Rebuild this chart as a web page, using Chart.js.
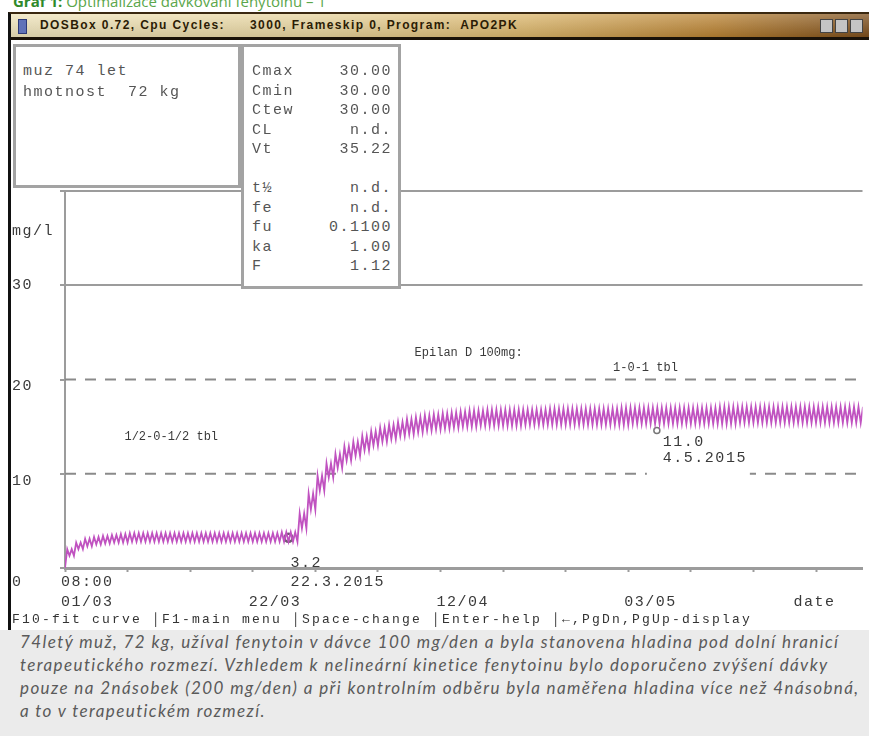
<!DOCTYPE html>
<html lang="cs">
<head>
<meta charset="utf-8">
<title>Optimalizace dávkování fenytoinu</title>
<script src="https://cdn.jsdelivr.net/npm/chart.js@4.4.1/dist/chart.umd.min.js"></script>
<style>
  html, body { margin: 0; padding: 0; }
  body { width: 869px; height: 736px; position: relative; overflow: hidden; background: #fff; }
  #nadpis { position: absolute; left: 13px; top: -9px; font: 15px 'Open Sans', sans-serif; color: #5aa64a; white-space: nowrap; }
  #nadpis b { color: #2f8a2a; }
  #ram { position: absolute; left: 8px; top: 12px; width: 870px; height: 616px; border-left: 3px solid #111; border-top: 2px solid #3a2810; background: #fff; }
  #lista { position: absolute; left: 11px; top: 14px; width: 858px; height: 23px; border-bottom: 3px solid #1a1208; z-index: 3;
    background: linear-gradient(to bottom, rgba(255,255,255,0.25), rgba(0,0,0,0.1)),
                linear-gradient(to right, #efe4bc 0%, #e7d49e 35%, #dab56a 60%, #b98232 82%, #7c4e1c 100%); }
  #lista .ikona { position: absolute; left: 7px; top: 5px; width: 7px; height: 13px; background: #6072b8; border: 1px solid #2d3a78; }
  #lista .text { position: absolute; top: 4px; font: bold 12px 'Liberation Sans', sans-serif; letter-spacing: 1.4px; color: #2b1c05; white-space: pre; }
  #lista .tlac { position: absolute; top: 5px; width: 11px; height: 12px; background: #c4c4c4; border: 1px solid #444; }
  #graf { position: absolute; left: 0; top: 0; z-index: 1; }
  .box { position: absolute; z-index: 2; background: #fff; border: 3px solid #a3a3a3; box-sizing: border-box; }
  .radek { position: absolute; z-index: 2; font: 15px 'Liberation Mono', monospace; letter-spacing: 1.5px; color: #555; white-space: pre; line-height: 18px; }
  #stav { position: absolute; z-index: 2; left: 12px; top: 612px; font: 13px 'Liberation Mono', monospace; letter-spacing: 2.2px; color: #333; white-space: pre; }
  #popis { position: absolute; left: 0; top: 630px; width: 869px; height: 106px; background: #ebebeb; overflow: hidden; }
  #popis p { margin: 0; position: absolute; left: 20px; font: italic 17px 'Lato', sans-serif; letter-spacing: 1.4px; color: #5a5a5a; white-space: nowrap; line-height: 23px; }
</style>
</head>
<body>
<div id="nadpis"><b>Graf 1:</b> Optimalizace dávkování fenytoinu – 1</div>
<div id="ram"></div>
<div id="lista">
  <div class="ikona"></div>
  <div class="text" style="left:29px">DOSBox 0.72, Cpu Cycles:</div>
  <div class="text" style="left:239px">3000, Frameskip 0, Program:  APO2PK</div>
  <div class="tlac" style="left:809px"></div>
  <div class="tlac" style="left:824px"></div>
  <div class="tlac" style="left:839px"></div>
</div>
<canvas id="graf" width="869" height="620"></canvas>
<div class="box" style="left:13px; top:44px; width:228px; height:144px"></div>
<div class="box" style="left:241px; top:44px; width:160px; height:245px"></div>
<div id="boxy"></div>
<div id="stav">F10-fit curve │F1-main menu │Space-change │Enter-help │←,PgDn,PgUp-display</div>
<div id="popis">
  <p style="top:0px">74letý muž, 72 kg, užíval fenytoin v dávce 100 mg/den a byla stanovena hladina pod dolní hranicí</p>
  <p style="top:23px">terapeutického rozmezí. Vzhledem k nelineární kinetice fenytoinu bylo doporučeno zvýšení dávky</p>
  <p style="top:46px">pouze na 2násobek (200 mg/den) a při kontrolním odběru byla naměřena hladina více než 4násobná,</p>
  <p style="top:69px">a to v terapeutickém rozmezí.</p>
</div>
<script>
// pacient a parametry (levy a pravy ramecek)
const pacient = ['muz 74 let', 'hmotnost  72 kg'];
const parametry = ['Cmax', 'Cmin', 'Ctew', 'CL', 'Vt', '', 't½', 'fe', 'fu', 'ka', 'F'];
const hodnotyParametru = ['30.00', '30.00', '30.00', 'n.d.', '35.22', '', 'n.d.', 'n.d.', '0.1100', '1.00', '1.12'];

// simulovana hladina fenytoinu (mg/l): denni minima a maxima, den 0 = 01/03 08:00
const dny = [];
for (let d = 0; d < 90; d++) dny.push(d);
const minima = [
  1.3, 2.0, 2.3, 2.5, 2.6, 2.7, 2.7, 2.8, 2.8, 2.8,
  2.8, 2.8, 2.8, 2.8, 2.8, 2.8, 2.8, 2.8, 2.8, 2.8,
  2.8, 2.8, 2.8, 2.8, 2.8, 2.8, 4.2, 6.2, 8.2, 9.6,
  10.6, 11.4, 11.9, 12.5, 13.0, 13.4, 13.7, 14.0, 14.2, 14.4,
  14.6, 14.7, 14.8, 14.9, 15.0, 15.0, 15.1, 15.1, 15.1, 15.1,
  15.1, 15.2, 15.2, 15.2, 15.2, 15.2, 15.2, 15.2, 15.2, 15.2,
  15.2, 15.2, 15.2, 15.3, 15.3, 15.3, 15.3, 15.3, 15.3, 15.3,
  15.3, 15.3, 15.3, 15.3, 15.3, 15.4, 15.4, 15.4, 15.4, 15.4,
  15.4, 15.4, 15.4, 15.4, 15.4, 15.4, 15.4, 15.4, 15.4, 15.4
];
const maxima = [
  2.0, 2.7, 3.1, 3.3, 3.4, 3.5, 3.6, 3.7, 3.7, 3.7,
  3.7, 3.7, 3.7, 3.7, 3.7, 3.7, 3.7, 3.7, 3.7, 3.7,
  3.7, 3.7, 3.7, 3.7, 3.8, 3.8, 5.8, 7.9, 9.8, 11.1,
  12.1, 12.9, 13.4, 14.0, 14.5, 14.9, 15.2, 15.5, 15.8, 16.0,
  16.2, 16.3, 16.4, 16.5, 16.6, 16.7, 16.7, 16.8, 16.8, 16.8,
  16.8, 16.8, 16.8, 16.8, 16.9, 16.9, 16.9, 16.9, 16.9, 16.9,
  16.9, 16.9, 17.0, 17.0, 17.0, 17.0, 17.0, 17.0, 17.0, 17.0,
  17.0, 17.0, 17.0, 17.1, 17.1, 17.1, 17.1, 17.1, 17.1, 17.1,
  17.1, 17.1, 17.1, 17.1, 17.1, 17.1, 17.1, 17.1, 17.1, 17.1
];
const hladinaNaPocatku = 0;

// namerene hladiny (krouzky)
const mereniDny = [25, 66.2];
const mereniHodnoty = [3.2, 14.6];
const mereniPopisky = [['3.2', '22.3.2015'], ['11.0', '4.5.2015']];

// terapeuticke rozmezi
const terapeutickeRozmezi = [10, 20];

// osy
const yTicky = [0, 10, 20, 30, 40];
const yPopisky = [['', '', '0'], ['', '10'], ['', '20'], ['30'], ['']];
const xTicky = [0, 7, 14, 21, 28, 35, 42, 49, 56, 63, 70, 77, 84];
const xPopiskyDny = [0, 21, 42, 63];
const xPopisky = [['08:00', '01/03'], ['', '22/03'], ['', '12/04'], ['', '03/05']];

// ramecky s textem
const boxy = document.getElementById('boxy');
function radek(text, left, top, right) {
  const el = document.createElement('div');
  el.className = 'radek';
  el.textContent = text;
  el.style.top = (top - 9) + 'px';
  if (right) el.style.right = (869 - left) + 'px'; else el.style.left = left + 'px';
  boxy.appendChild(el);
}
pacient.forEach((t, i) => radek(t, 23, 72 + i * 21));
parametry.forEach((t, i) => {
  radek(t, 252, 72 + i * 19.5);
  radek(hodnotyParametru[i], 392, 72 + i * 19.5, true);
});

// krivka: po dvou davkach denne
const krivka = [{ x: 0, y: hladinaNaPocatku }];
dny.forEach((d, i) => {
  krivka.push({ x: d + 0.25, y: maxima[i] }, { x: d + 0.5, y: minima[i] },
              { x: d + 0.75, y: maxima[i] }, { x: d + 1, y: minima[i] });
});

const xMax = 89.2;
const seda = '#9c9c9c';

const textyPlugin = {
  id: 'texty',
  beforeDraw(chart) {
    chart.ctx.letterSpacing = '1.5px';
  },
  afterDatasetDraw(chart, args) {
    // bile pozadi pod popiskem 4.5.2015 prerusuje carkovanou caru
    if (args.index !== 2) return;
    const { ctx, scales: { x, y } } = chart;
    const px = x.getPixelForValue(mereniDny[1]);
    const py = y.getPixelForValue(mereniHodnoty[1]);
    ctx.save();
    ctx.fillStyle = '#fff';
    ctx.fillRect(px - 10, py + 4, 103, 44);
    ctx.restore();
  },
  afterDatasetsDraw(chart, args, opts) {
    const { ctx, chartArea: a, scales: { x, y } } = chart;
    ctx.save();
    ctx.textBaseline = 'middle';
    ctx.textAlign = 'left';
    ctx.fillStyle = '#3a3a3a';
    ctx.font = "15px 'Liberation Mono', monospace";
    ctx.letterSpacing = '1.5px';
    // jednotky os
    ctx.fillText('mg/l', a.left - 53, a.top + 40);
    ctx.fillText('date', a.right - 69, a.bottom + 34);
    // popisky mereni
    mereniDny.forEach((d, i) => {
      const px = x.getPixelForValue(d), py = y.getPixelForValue(mereniHodnoty[i]);
      const o = opts.posunMereni[i];
      ctx.fillText(mereniPopisky[i][0], px + o[0], py + o[1]);
      ctx.fillText(mereniPopisky[i][1], px + o[0], py + o[2]);
    });
    // davkovani
    ctx.font = "12px 'Liberation Mono', monospace";
    ctx.letterSpacing = '0px';
    opts.davkovani.forEach(t => {
      ctx.fillText(t.text, x.getPixelForValue(t.d), y.getPixelForValue(t.c));
    });
    ctx.restore();
  }
};

new Chart(document.getElementById('graf'), {
  type: 'line',
  data: {
    datasets: [
      {
        data: krivka,
        borderColor: 'rgb(192, 82, 192)',
        borderWidth: 1.8,
        pointRadius: 0,
        tension: 0
      },
      {
        data: mereniDny.map((d, i) => ({ x: d, y: mereniHodnoty[i] })),
        showLine: false,
        pointRadius: [4, 3],
        pointBorderWidth: [2.5, 1.5],
        pointBorderColor: ['#6f5a70', '#777'],
        pointBackgroundColor: 'rgba(0,0,0,0)'
      },
      ...terapeutickeRozmezi.map(c => ({
        data: [{ x: 0, y: c }, { x: xMax, y: c }],
        borderColor: '#8a8a8a',
        borderWidth: 2,
        borderDash: [11, 9],
        pointRadius: 0
      }))
    ]
  },
  options: {
    responsive: false,
    animation: false,
    events: [],
    layout: { padding: { top: 191, left: 12, right: 0, bottom: 0 } },
    plugins: {
      legend: { display: false },
      tooltip: { enabled: false },
      texty: {
        posunMereni: [[2, 25, 44], [6, 12, 28]],
        davkovani: [
          { d: 39.1, c: 22.8, text: 'Epilan D 100mg:' },
          { d: 61.3, c: 21.2, text: '1-0-1 tbl' },
          { d: 6.65, c: 13.9, text: '1/2-0-1/2 tbl' }
        ]
      }
    },
    scales: {
      x: {
        type: 'linear',
        min: 0,
        max: xMax,
        afterBuildTicks: axis => { axis.ticks = xTicky.map(v => ({ value: v })); },
        afterFit: scale => { scale.height = 52; },
        border: { color: seda, width: 3 },
        grid: { drawOnChartArea: false, drawTicks: true, tickLength: 4, tickColor: seda, tickWidth: 2 },
        ticks: {
          autoSkip: false,
          maxRotation: 0,
          align: 'start',
          labelOffset: -4,
          padding: 0,
          color: '#3a3a3a',
          font: { family: "'Liberation Mono', monospace", size: 15, lineHeight: 1.33 },
          callback: v => {
            const i = xPopiskyDny.indexOf(v);
            return i >= 0 ? xPopisky[i] : '';
          }
        }
      },
      y: {
        min: 0,
        max: 40,
        afterBuildTicks: axis => { axis.ticks = yTicky.map(v => ({ value: v })); },
        afterFit: scale => { scale.width = 53; },
        border: { color: seda, width: 2 },
        grid: {
          color: c => (c.tick && c.tick.value >= 30 ? seda : 'rgba(0,0,0,0)'),
          lineWidth: 2,
          drawTicks: true,
          tickLength: 5,
          tickColor: seda
        },
        ticks: {
          crossAlign: 'far',
          color: '#3a3a3a',
          font: { family: "'Liberation Mono', monospace", size: 15, lineHeight: '14px' },
          callback: v => yPopisky[yTicky.indexOf(v)]
        }
      }
    }
  },
  plugins: [textyPlugin]
});
</script>
</body>
</html>
